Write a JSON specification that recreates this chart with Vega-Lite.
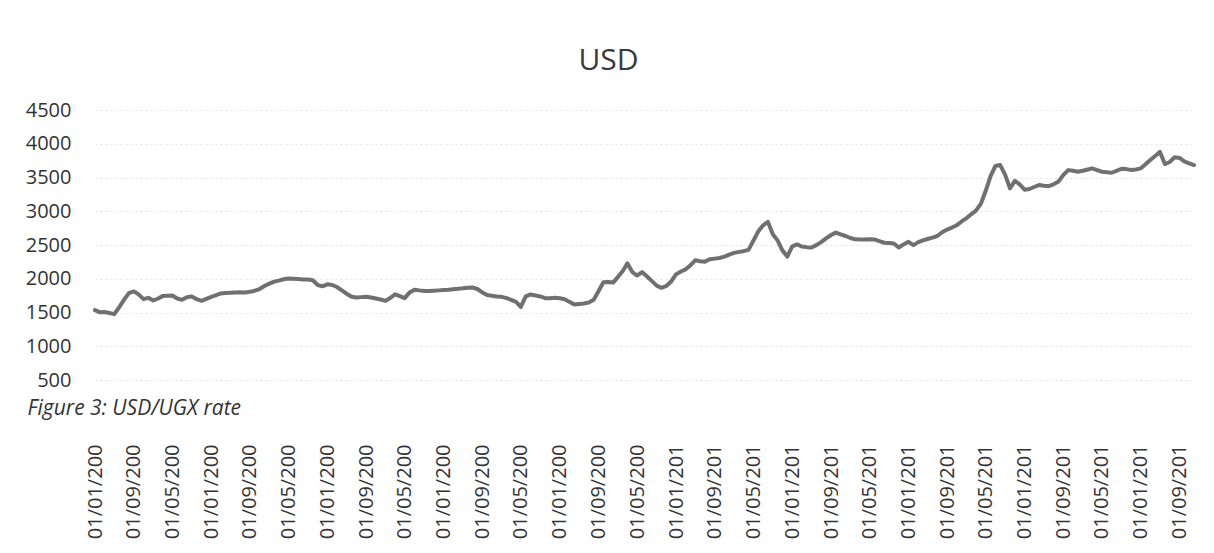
{
  "$schema": "https://vega.github.io/schema/vega-lite/v6.json",
  "autosize": {"type": "none"},
  "padding": {"left": 95, "top": 110, "right": 20, "bottom": 139},
  "width": 1099,
  "height": 304,
  "background": "white",
  "title": {"text": "USD", "fontSize": 30, "font": "Open Sans", "fontWeight": "normal", "color": "#3a3a3a", "offset": 24, "dx": -36},
  "config": {"view": {"stroke": null}, "font": "Open Sans"},
  "data": {
    "format": {"parse": {"date": "date:'%Y-%m'"}},
    "values": [
      {"date":"2000-01","rate":1537},{"date":"2000-02","rate":1505},{"date":"2000-03","rate":1510},{"date":"2000-04","rate":1495},{"date":"2000-05","rate":1478},{"date":"2000-06","rate":1580},{"date":"2000-07","rate":1690},{"date":"2000-08","rate":1790},{"date":"2000-09","rate":1815},{"date":"2000-10","rate":1770},{"date":"2000-11","rate":1700},{"date":"2000-12","rate":1720},
      {"date":"2001-01","rate":1680},{"date":"2001-02","rate":1710},{"date":"2001-03","rate":1745},{"date":"2001-04","rate":1750},{"date":"2001-05","rate":1755},{"date":"2001-06","rate":1710},{"date":"2001-07","rate":1690},{"date":"2001-08","rate":1730},{"date":"2001-09","rate":1740},{"date":"2001-10","rate":1700},{"date":"2001-11","rate":1675},{"date":"2001-12","rate":1705},
      {"date":"2002-01","rate":1735},{"date":"2002-02","rate":1760},{"date":"2002-03","rate":1785},{"date":"2002-04","rate":1790},{"date":"2002-05","rate":1795},{"date":"2002-06","rate":1800},{"date":"2002-07","rate":1802},{"date":"2002-08","rate":1800},{"date":"2002-09","rate":1808},{"date":"2002-10","rate":1825},{"date":"2002-11","rate":1850},{"date":"2002-12","rate":1895},
      {"date":"2003-01","rate":1930},{"date":"2003-02","rate":1960},{"date":"2003-03","rate":1975},{"date":"2003-04","rate":1995},{"date":"2003-05","rate":2005},{"date":"2003-06","rate":2003},{"date":"2003-07","rate":1998},{"date":"2003-08","rate":1992},{"date":"2003-09","rate":1990},{"date":"2003-10","rate":1980},{"date":"2003-11","rate":1910},{"date":"2003-12","rate":1890},
      {"date":"2004-01","rate":1920},{"date":"2004-02","rate":1910},{"date":"2004-03","rate":1880},{"date":"2004-04","rate":1830},{"date":"2004-05","rate":1780},{"date":"2004-06","rate":1735},{"date":"2004-07","rate":1725},{"date":"2004-08","rate":1730},{"date":"2004-09","rate":1735},{"date":"2004-10","rate":1725},{"date":"2004-11","rate":1710},{"date":"2004-12","rate":1695},
      {"date":"2005-01","rate":1675},{"date":"2005-02","rate":1720},{"date":"2005-03","rate":1772},{"date":"2005-04","rate":1745},{"date":"2005-05","rate":1715},{"date":"2005-06","rate":1800},{"date":"2005-07","rate":1840},{"date":"2005-08","rate":1830},{"date":"2005-09","rate":1822},{"date":"2005-10","rate":1819},{"date":"2005-11","rate":1825},{"date":"2005-12","rate":1830},
      {"date":"2006-01","rate":1835},{"date":"2006-02","rate":1840},{"date":"2006-03","rate":1848},{"date":"2006-04","rate":1853},{"date":"2006-05","rate":1860},{"date":"2006-06","rate":1870},{"date":"2006-07","rate":1872},{"date":"2006-08","rate":1850},{"date":"2006-09","rate":1800},{"date":"2006-10","rate":1762},{"date":"2006-11","rate":1750},{"date":"2006-12","rate":1740},
      {"date":"2007-01","rate":1734},{"date":"2007-02","rate":1715},{"date":"2007-03","rate":1690},{"date":"2007-04","rate":1660},{"date":"2007-05","rate":1585},{"date":"2007-06","rate":1740},{"date":"2007-07","rate":1770},{"date":"2007-08","rate":1755},{"date":"2007-09","rate":1740},{"date":"2007-10","rate":1715},{"date":"2007-11","rate":1712},{"date":"2007-12","rate":1720},
      {"date":"2008-01","rate":1712},{"date":"2008-02","rate":1700},{"date":"2008-03","rate":1660},{"date":"2008-04","rate":1620},{"date":"2008-05","rate":1628},{"date":"2008-06","rate":1636},{"date":"2008-07","rate":1650},{"date":"2008-08","rate":1690},{"date":"2008-09","rate":1820},{"date":"2008-10","rate":1950},{"date":"2008-11","rate":1955},{"date":"2008-12","rate":1945},
      {"date":"2009-01","rate":2030},{"date":"2009-02","rate":2120},{"date":"2009-03","rate":2230},{"date":"2009-04","rate":2100},{"date":"2009-05","rate":2050},{"date":"2009-06","rate":2100},{"date":"2009-07","rate":2040},{"date":"2009-08","rate":1970},{"date":"2009-09","rate":1900},{"date":"2009-10","rate":1868},{"date":"2009-11","rate":1895},{"date":"2009-12","rate":1960},
      {"date":"2010-01","rate":2070},{"date":"2010-02","rate":2110},{"date":"2010-03","rate":2140},{"date":"2010-04","rate":2200},{"date":"2010-05","rate":2275},{"date":"2010-06","rate":2260},{"date":"2010-07","rate":2255},{"date":"2010-08","rate":2290},{"date":"2010-09","rate":2300},{"date":"2010-10","rate":2310},{"date":"2010-11","rate":2330},{"date":"2010-12","rate":2360},
      {"date":"2011-01","rate":2385},{"date":"2011-02","rate":2400},{"date":"2011-03","rate":2410},{"date":"2011-04","rate":2430},{"date":"2011-05","rate":2560},{"date":"2011-06","rate":2700},{"date":"2011-07","rate":2790},{"date":"2011-08","rate":2845},{"date":"2011-09","rate":2660},{"date":"2011-10","rate":2570},{"date":"2011-11","rate":2420},{"date":"2011-12","rate":2330},
      {"date":"2012-01","rate":2480},{"date":"2012-02","rate":2510},{"date":"2012-03","rate":2480},{"date":"2012-04","rate":2470},{"date":"2012-05","rate":2465},{"date":"2012-06","rate":2500},{"date":"2012-07","rate":2545},{"date":"2012-08","rate":2600},{"date":"2012-09","rate":2650},{"date":"2012-10","rate":2685},{"date":"2012-11","rate":2660},{"date":"2012-12","rate":2635},
      {"date":"2013-01","rate":2605},{"date":"2013-02","rate":2585},{"date":"2013-03","rate":2584},{"date":"2013-04","rate":2584},{"date":"2013-05","rate":2588},{"date":"2013-06","rate":2584},{"date":"2013-07","rate":2560},{"date":"2013-08","rate":2535},{"date":"2013-09","rate":2530},{"date":"2013-10","rate":2525},{"date":"2013-11","rate":2465},{"date":"2013-12","rate":2510},
      {"date":"2014-01","rate":2549},{"date":"2014-02","rate":2500},{"date":"2014-03","rate":2540},{"date":"2014-04","rate":2570},{"date":"2014-05","rate":2590},{"date":"2014-06","rate":2610},{"date":"2014-07","rate":2635},{"date":"2014-08","rate":2690},{"date":"2014-09","rate":2730},{"date":"2014-10","rate":2760},{"date":"2014-11","rate":2795},{"date":"2014-12","rate":2850},
      {"date":"2015-01","rate":2900},{"date":"2015-02","rate":2960},{"date":"2015-03","rate":3010},{"date":"2015-04","rate":3110},{"date":"2015-05","rate":3300},{"date":"2015-06","rate":3520},{"date":"2015-07","rate":3670},{"date":"2015-08","rate":3685},{"date":"2015-09","rate":3540},{"date":"2015-10","rate":3340},{"date":"2015-11","rate":3450},{"date":"2015-12","rate":3400},
      {"date":"2016-01","rate":3320},{"date":"2016-02","rate":3330},{"date":"2016-03","rate":3360},{"date":"2016-04","rate":3390},{"date":"2016-05","rate":3380},{"date":"2016-06","rate":3374},{"date":"2016-07","rate":3400},{"date":"2016-08","rate":3440},{"date":"2016-09","rate":3540},{"date":"2016-10","rate":3610},{"date":"2016-11","rate":3600},{"date":"2016-12","rate":3586},
      {"date":"2017-01","rate":3600},{"date":"2017-02","rate":3620},{"date":"2017-03","rate":3636},{"date":"2017-04","rate":3610},{"date":"2017-05","rate":3586},{"date":"2017-06","rate":3580},{"date":"2017-07","rate":3571},{"date":"2017-08","rate":3600},{"date":"2017-09","rate":3630},{"date":"2017-10","rate":3625},{"date":"2017-11","rate":3612},{"date":"2017-12","rate":3620},
      {"date":"2018-01","rate":3636},{"date":"2018-02","rate":3700},{"date":"2018-03","rate":3760},{"date":"2018-04","rate":3820},{"date":"2018-05","rate":3880},{"date":"2018-06","rate":3700},{"date":"2018-07","rate":3730},{"date":"2018-08","rate":3800},{"date":"2018-09","rate":3790},{"date":"2018-10","rate":3740},{"date":"2018-11","rate":3710},{"date":"2018-12","rate":3685}
    ]
  },
  "mark": {"type": "line", "color": "#707070", "strokeWidth": 4, "strokeJoin": "round", "strokeCap": "round"},
  "encoding": {
    "x": {
      "field": "date",
      "type": "temporal",
      "scale": {"domain": [{"year": 2000, "month": 1, "date": 1}, {"year": 2018, "month": 12, "date": 1}]},
      "axis": {
        "title": null,
        "grid": false,
        "domain": false,
        "ticks": false,
        "values": [
          {"year":2000,"month":1,"date":1},{"year":2000,"month":9,"date":1},{"year":2001,"month":5,"date":1},{"year":2002,"month":1,"date":1},{"year":2002,"month":9,"date":1},{"year":2003,"month":5,"date":1},{"year":2004,"month":1,"date":1},{"year":2004,"month":9,"date":1},{"year":2005,"month":5,"date":1},{"year":2006,"month":1,"date":1},{"year":2006,"month":9,"date":1},{"year":2007,"month":5,"date":1},{"year":2008,"month":1,"date":1},{"year":2008,"month":9,"date":1},{"year":2009,"month":5,"date":1},{"year":2010,"month":1,"date":1},{"year":2010,"month":9,"date":1},{"year":2011,"month":5,"date":1},{"year":2012,"month":1,"date":1},{"year":2012,"month":9,"date":1},{"year":2013,"month":5,"date":1},{"year":2014,"month":1,"date":1},{"year":2014,"month":9,"date":1},{"year":2015,"month":5,"date":1},{"year":2016,"month":1,"date":1},{"year":2016,"month":9,"date":1},{"year":2017,"month":5,"date":1},{"year":2018,"month":1,"date":1},{"year":2018,"month":9,"date":1}
        ],
        "labelExpr": "substring(timeFormat(datum.value, '%d/%m/%Y'), 0, 9)",
        "labelAngle": 270,
        "labelAlign": "right",
        "labelBaseline": "middle",
        "labelPadding": 30,
        "labelFontSize": 20,
        "labelFont": "Open Sans",
        "labelColor": "#333333",
        "labelOverlap": false,
        "labelBound": false,
        "labelFlush": false
      }
    },
    "y": {
      "field": "rate",
      "type": "quantitative",
      "scale": {"domain": [0, 4500], "nice": false},
      "axis": {
        "title": "Figure 3: USD/UGX rate",
        "titleAngle": 0,
        "titleAlign": "left",
        "titleBaseline": "alphabetic",
        "titleX": -68,
        "titleY": 304,
        "titleFontSize": 21,
        "titleFont": "Open Sans",
        "titleFontStyle": "italic",
        "titleFontWeight": "normal",
        "titleColor": "#333333",
        "values": [500, 1000, 1500, 2000, 2500, 3000, 3500, 4000, 4500],
        "format": "d",
        "domain": false,
        "ticks": false,
        "labelPadding": 24,
        "labelFontSize": 20,
        "labelFont": "Open Sans",
        "labelColor": "#333333",
        "gridColor": "#e4e4e4",
        "gridDash": [2, 3],
        "gridWidth": 1
      }
    }
  }
}
